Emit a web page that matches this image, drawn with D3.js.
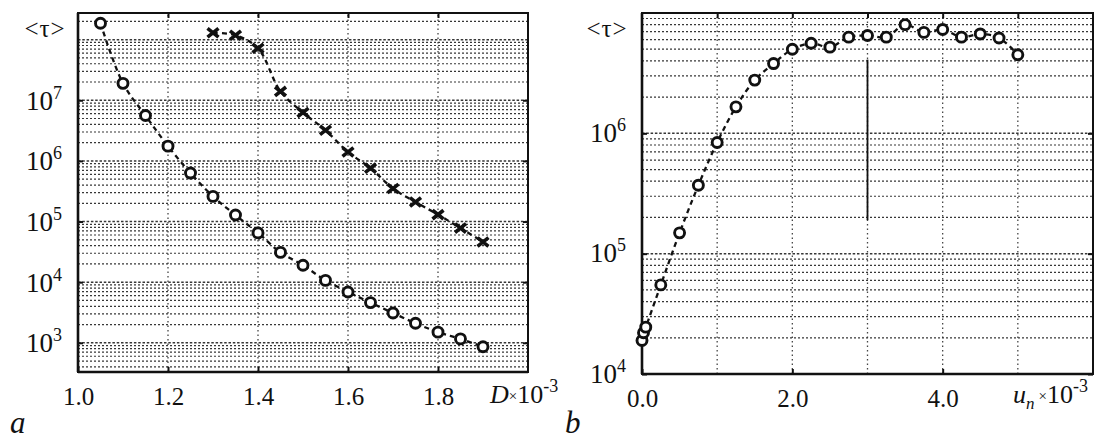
<!DOCTYPE html>
<html><head><meta charset="utf-8">
<script src="https://cdn.jsdelivr.net/npm/d3@7"></script>
</head>
<body style="margin:0">
<svg id="c" width="1106" height="442"></svg>
<script>
// ---------- data ----------
const leftCircleX = [1.05,1.10,1.15,1.20,1.25,1.30,1.35,1.40,1.45,1.50,1.55,1.60,1.65,1.70,1.75,1.80,1.85,1.90];
const leftCircleY = [1.86e8,1.9e7,5.6e6,1.75e6,6.3e5,2.6e5,1.28e5,6.5e4,3.1e4,1.9e4,1.07e4,6.9e3,4.6e3,3.1e3,2.1e3,1.5e3,1.16e3,8.6e2];
const leftCrossX = [1.30,1.35,1.40,1.45,1.50,1.55,1.60,1.65,1.70,1.75,1.80,1.85,1.90];
const leftCrossY = [1.3e8,1.18e8,7.2e7,1.4e7,6.3e6,3.2e6,1.4e6,7.6e5,3.5e5,2.1e5,1.3e5,7.8e4,4.6e4];
const rightX = [0.0,0.02,0.05,0.25,0.5,0.75,1.0,1.25,1.5,1.75,2.0,2.25,2.5,2.75,3.0,3.25,3.5,3.75,4.0,4.25,4.5,4.75,5.0];
const rightY = [1.9e4,2.2e4,2.45e4,5.5e4,1.49e5,3.7e5,8.4e5,1.66e6,2.77e6,3.8e6,5.0e6,5.6e6,5.2e6,6.3e6,6.5e6,6.3e6,8.0e6,6.9e6,7.3e6,6.3e6,6.7e6,6.2e6,4.5e6];
const rightMarkX = [3.0];
const rightMarkY = [[1.9e5, 4.1e6]];
const leftXTicks = [1.0,1.2,1.4,1.6,1.8];
const leftXGrid = [1.2,1.4,1.6,1.8];
const leftYTicks = [3,4,5,6,7];      // exponents
const rightXTicks = [0.0,2.0,4.0];
const rightXGrid = [1,2,3,4,5];
const rightYTicks = [4,5,6];
const leftXLabel = ["D","×10","-3"];
const rightXLabel = ["u","n","×10","-3"];
const yTitle = "<τ>";
const panelLetters = ["a","b"];

const FONT = '"Liberation Serif"';

// ---------- drawing ----------
const svg = d3.select("#c");
svg.append("rect").attr("width",1106).attr("height",442).attr("fill","#fff");

function T(sel){ return sel.style("font-family",FONT).attr("fill","#111"); }

function panel(opt){
  const g = svg.append("g");
  const x = opt.x, y = opt.y;
  const [x0,x1] = x.range(), [y0,y1] = y.range(); // y0 bottom, y1 top
  // horizontal log grid
  const [dmin,dmax] = y.domain();
  const hv = [];
  for(let e=Math.floor(Math.log10(dmin)); e<=Math.ceil(Math.log10(dmax)); e++){
    for(let m=1;m<=9;m++){ const v=m*Math.pow(10,e); if(v>dmin && v<dmax) hv.push({v, major:m===1}); }
  }
  g.append("g").selectAll("line").data(hv).join("line")
    .attr("x1",x0).attr("x2",x1)
    .attr("y1",d=>y(d.v)).attr("y2",d=>y(d.v))
    .attr("stroke","#222")
    .attr("stroke-width",d=>d.major?1.5:1.2)
    .attr("stroke-dasharray",d=>d.major?"2.5,1.8":"2,2")
    .attr("opacity",0.9);
  // vertical grid
  g.append("g").selectAll("line").data(opt.xGrid).join("line")
    .attr("x1",d=>x(d)).attr("x2",d=>x(d))
    .attr("y1",y0).attr("y2",y1)
    .attr("stroke","#333").attr("stroke-width",1.3)
    .attr("stroke-dasharray","1.5,3").attr("opacity",0.9);
  // frame
  g.append("rect").attr("x",x0).attr("y",y1).attr("width",x1-x0).attr("height",y0-y1)
    .attr("fill","none").attr("stroke","#111").attr("stroke-width",2);
  g.append("line").attr("x1",x0).attr("x2",x0).attr("y1",y1).attr("y2",y0).attr("stroke","#111").attr("stroke-width",2.6);
  g.append("line").attr("x1",x0).attr("x2",x1).attr("y1",y0).attr("y2",y0).attr("stroke","#111").attr("stroke-width",2.6);

  // x axis (bottom) with labels
  const xa = g.append("g").attr("transform",`translate(0,${y0})`)
    .call(d3.axisBottom(x).tickValues(opt.xTicks).tickSize(-5).tickPadding(15).tickFormat(d3.format(".1f")));
  xa.attr("font-family",null);
  xa.select(".domain").remove();
  xa.selectAll(".tick line").attr("stroke","#111").attr("stroke-width",2);
  T(xa.selectAll(".tick text")).attr("font-size",25);
  // top ticks
  const xt = g.append("g").attr("transform",`translate(0,${y1})`)
    .call(d3.axisTop(x).tickValues(opt.xGrid).tickSize(-5).tickFormat(""));
  xt.select(".domain").remove();
  xt.selectAll(".tick line").attr("stroke","#111").attr("stroke-width",2);

  // y axis
  const ya = g.append("g").attr("transform",`translate(${x0},0)`)
    .call(d3.axisLeft(y).tickValues(opt.yTicks.map(e=>Math.pow(10,e))).tickSize(-5).tickFormat(""));
  ya.attr("font-family",null);
  ya.select(".domain").remove();
  ya.selectAll(".tick line").attr("stroke","#111").attr("stroke-width",2);
  T(ya.selectAll(".tick").append("text"))
    .attr("x",-25).attr("y",opt.yLabDy).attr("text-anchor","end")
    .attr("font-size",27)
    .text("10");
  T(ya.selectAll(".tick").append("text"))
    .attr("x",-25).attr("y",opt.yLabDy-11).attr("text-anchor","start")
    .attr("font-size",18)
    .text(d=>Math.round(Math.log10(d)));
  const yr = g.append("g").attr("transform",`translate(${x1},0)`)
    .call(d3.axisRight(y).tickValues(opt.yTicks.map(e=>Math.pow(10,e))).tickSize(-5).tickFormat(""));
  yr.select(".domain").remove();
  yr.selectAll(".tick line").attr("stroke","#111").attr("stroke-width",2);

  // y title
  T(g.append("text")).attr("x",opt.titleX).attr("y",y1+24).attr("text-anchor","middle")
    .attr("font-size",25).attr("letter-spacing",1).text(yTitle);
  return g;
}

// ----- left panel -----
const xL = d3.scaleLinear().domain([1.0,2.0]).range([78,528]);
const yL = d3.scaleLog().domain([330,2.75e8]).range([372,13]);
const gL = panel({x:xL,y:yL,xTicks:leftXTicks,xGrid:leftXGrid,yTicks:leftYTicks,yLabDy:9,titleX:45});

const lineL = d3.line().x(d=>xL(d[0])).y(d=>yL(d[1])).curve(d3.curveCatmullRom);
const circL = leftCircleX.map((v,i)=>[v,leftCircleY[i]]);
const crossL = leftCrossX.map((v,i)=>[v,leftCrossY[i]]);
gL.append("path").attr("d",lineL(circL)).attr("fill","none").attr("stroke","#111").attr("stroke-width",2.3).attr("stroke-dasharray","5,4");
gL.append("path").attr("d",lineL(crossL)).attr("fill","none").attr("stroke","#111").attr("stroke-width",2.3).attr("stroke-dasharray","5,4");
gL.append("g").selectAll("circle").data(circL).join("circle")
  .attr("cx",d=>xL(d[0])).attr("cy",d=>yL(d[1])).attr("r",5)
  .attr("fill","#fff").attr("stroke","#111").attr("stroke-width",2.9);
const cs = 5.5;
gL.append("g").selectAll("path").data(crossL).join("path")
  .attr("d",d=>{const cx=xL(d[0]),cy=yL(d[1]);return `M${cx-cs},${cy-cs*0.8}L${cx+cs},${cy+cs*0.8}M${cx-cs},${cy+cs*0.8}L${cx+cs},${cy-cs*0.8}`;})
  .attr("stroke","#111").attr("stroke-width",3.6).attr("fill","none");

// x label left
const tl = T(gL.append("text")).attr("x",490).attr("y",403).attr("font-size",26);
tl.append("tspan").attr("font-style","italic").text(leftXLabel[0]);
tl.append("tspan").attr("font-size",15).attr("dy",-2).text(leftXLabel[1].slice(0,1));
tl.append("tspan").attr("font-size",26).attr("dy",2).text(leftXLabel[1].slice(1));
tl.append("tspan").attr("font-size",18).attr("dy",-11).text(leftXLabel[2]);

// ----- right panel -----
const xR = d3.scaleLinear().domain([0,6]).range([642,1093]);
const yR = d3.scaleLog().domain([1e4,1e7]).range([374,13]);
const gR = panel({x:xR,y:yR,xTicks:rightXTicks,xGrid:rightXGrid,yTicks:rightYTicks,yLabDy:8,titleX:607});

// solid marker line at x=3.0
gR.append("g").selectAll("line").data(rightMarkX).join("line")
  .attr("x1",d=>xR(d)).attr("x2",d=>xR(d))
  .attr("y1",(d,i)=>yR(rightMarkY[i][0])).attr("y2",(d,i)=>yR(rightMarkY[i][1]))
  .attr("stroke","#111").attr("stroke-width",1.8);

const lineR = d3.line().x(d=>xR(d[0])).y(d=>yR(d[1])).curve(d3.curveCatmullRom);
const ptsR = rightX.map((v,i)=>[v,rightY[i]]);
gR.append("path").attr("d",lineR(ptsR)).attr("fill","none").attr("stroke","#111").attr("stroke-width",2.3).attr("stroke-dasharray","5,4");
gR.append("g").selectAll("circle").data(ptsR).join("circle")
  .attr("cx",d=>xR(d[0])).attr("cy",d=>yR(d[1])).attr("r",5)
  .attr("fill","#fff").attr("stroke","#111").attr("stroke-width",2.9);

const tr = T(gR.append("text")).attr("x",1013).attr("y",403).attr("font-size",26);
tr.append("tspan").attr("font-style","italic").text(rightXLabel[0]);
tr.append("tspan").attr("font-style","italic").attr("font-size",17).attr("dy",6).text(rightXLabel[1]);
tr.append("tspan").attr("font-size",15).attr("dy",-8).attr("dx",4).text(rightXLabel[2].slice(0,1));
tr.append("tspan").attr("font-size",26).attr("dy",2).text(rightXLabel[2].slice(1));
tr.append("tspan").attr("font-size",18).attr("dy",-11).text(rightXLabel[3]);

// panel letters
T(svg.append("text")).attr("x",10).attr("y",433).attr("font-size",31).attr("font-style","italic").text(panelLetters[0]);
T(svg.append("text")).attr("x",565).attr("y",433).attr("font-size",31).attr("font-style","italic").text(panelLetters[1]);
</script>
</body></html>
